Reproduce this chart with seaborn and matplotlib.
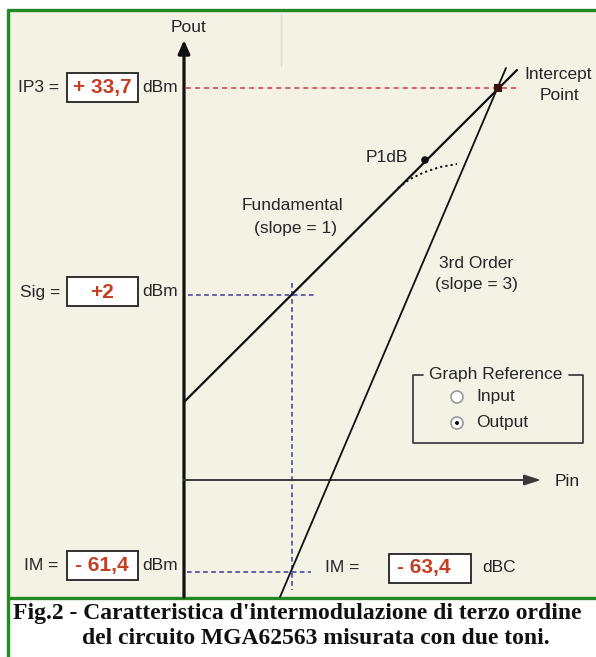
import matplotlib
matplotlib.use("Agg")
import matplotlib.pyplot as plt
from matplotlib.patches import Rectangle, Circle
import seaborn as sns

# ---------------- data (schematic units: Pin / Pout, origin at axes crossing) ----
fund_pin = [0, 333]
fund_pout = [78, 410]
third_pin = [96, 322]
third_pout = [-117, 412]
intercept_pin = [314]
intercept_pout = [392]
p1db_pin = [241]
p1db_pout = [320]
compress_pin = [214, 226, 241, 256, 273]
compress_pout = [292, 301, 308, 313, 316]
sig_pin = 108
sig_pout = 185
im_pout = -92

labels_left = ["IP3 =", "Sig =", "IM ="]
values_left = ["+ 33,7", "+2", "- 61,4"]
units_left = ["dBm", "dBm", "dBm"]
im_dbc_value = "- 63,4"
caption = ["Fig.2 - Caratteristica d'intermodulazione di terzo ordine",
           "del circuito MGA62563 misurata con due toni."]

# ---------------- style ------------------------------------------------------
sns.set_style("white")
plt.rcParams['font.family'] = ['Liberation Sans', 'DejaVu Sans']
plt.rcParams['lines.scale_dashes'] = False

W, H = 596, 657
fig = plt.figure(figsize=(W / 100, H / 100), dpi=100)
fig.patch.set_facecolor('white')
ax = fig.add_axes([0, 0, 1, 1])
OX, OY = 184, 480
ax.set_xlim(-OX, W - OX)
ax.set_ylim(OY - H, OY)
ax.axis('off')


def X(px):
    return px - OX


def Y(py):
    return OY - py


TXT = '#262626'
RED = '#c63d22'
BLUE = '#3a3a9c'
GREEN = '#238a23'
BEIGE = '#f4f1e5'

# panel
ax.add_patch(Rectangle((X(9), Y(597)), W, 587, facecolor=BEIGE, edgecolor='none', zorder=0))
# green frame
ax.plot([X(7), X(W)], [Y(10), Y(10)], color=GREEN, lw=2.4, solid_capstyle='butt', zorder=1)
ax.plot([X(8), X(8)], [Y(9), Y(H)], color=GREEN, lw=2.4, solid_capstyle='butt', zorder=1)
ax.plot([X(7), X(W)], [Y(598), Y(598)], color=GREEN, lw=2.4, solid_capstyle='butt', zorder=1)
# faint UI line
ax.plot([X(281), X(281)], [Y(14), Y(66)], color='#dcdcd6', lw=1, zorder=1)

# axes arrows
ax.annotate('', xy=(0, Y(40)), xytext=(0, Y(597)),
            arrowprops=dict(arrowstyle='-|>,head_length=0.8,head_width=0.35', lw=2.3,
                            color='#111111', shrinkA=0, shrinkB=0), zorder=3)
ax.annotate('', xy=(X(541), 0), xytext=(0, 0),
            arrowprops=dict(arrowstyle='-|>,head_length=1.0,head_width=0.32', lw=1.4,
                            color='#3a3a3a', shrinkA=0, shrinkB=0), zorder=3)
ax.text(X(188), Y(27), 'Pout', fontsize=12.5, color=TXT, ha='center', va='center')
ax.text(X(555), Y(481), 'Pin', fontsize=12.5, color=TXT, ha='left', va='center')

# guide lines
ax.plot([X(186), X(517)], [intercept_pout[0]] * 2, color='#d04848',
        lw=1.2, linestyle=(0, (3.6, 2.9)), zorder=2)
ax.plot([X(188), X(315)], [sig_pout, sig_pout], color=BLUE, lw=1.1,
        linestyle=(0, (3.4, 2.4)), zorder=2)
ax.plot([sig_pin, sig_pin], [Y(283), Y(590)], color=BLUE, lw=1.1,
        linestyle=(0, (3.4, 2.4)), zorder=2)
ax.plot([X(187), X(311)], [im_pout, im_pout], color=BLUE, lw=1.1,
        linestyle=(0, (3.4, 2.4)), zorder=2)

# characteristic lines
sns.lineplot(x=fund_pin, y=fund_pout, ax=ax, color='#111111', lw=1.6,
             sort=False, estimator=None, zorder=4)
sns.lineplot(x=third_pin, y=third_pout, ax=ax, color='#111111', lw=1.3,
             sort=False, estimator=None, zorder=4)
sns.lineplot(x=compress_pin, y=compress_pout, ax=ax, color='#111111', lw=1.4,
             sort=False, estimator=None, linestyle=(0, (1.6, 2.2)), zorder=4)
sns.scatterplot(x=p1db_pin, y=p1db_pout, ax=ax, color='#111111', s=30,
                edgecolor='none', zorder=5)
sns.scatterplot(x=intercept_pin, y=intercept_pout, ax=ax, color='#3a1414',
                marker='s', s=28, edgecolor='none', zorder=5)

# line labels
lab = dict(fontsize=12.5, color=TXT, ha='center', va='center')
ax.text(X(292), Y(205), 'Fundamental', **lab)
ax.text(X(295), Y(228), '(slope = 1)', **lab)
ax.text(X(476), Y(263), '3rd Order', **lab)
ax.text(X(476), Y(285), '(slope = 3)', **lab)
ax.text(X(387), Y(158), 'P1dB', **lab)
ax.text(X(558), Y(75), 'Intercept', **lab)
ax.text(X(559), Y(96), 'Point', **lab)

# left value boxes
rows_y = [88, 292, 566]
box_tops = [73, 277, 551]
label_x = [18, 20, 24]
for lbl, val, unit, cy, top, lx in zip(labels_left, values_left, units_left,
                                       rows_y, box_tops, label_x):
    ax.text(X(lx), Y(cy), lbl, fontsize=12.5, color=TXT, ha='left', va='center')
    ax.add_patch(Rectangle((X(67), Y(top + 29)), 71, 29, facecolor='white',
                           edgecolor='#222222', lw=1.3, zorder=3))
    ax.text(X(102), Y(cy), val, fontsize=15, color=RED, fontweight='bold',
            ha='center', va='center', zorder=4)
    ax.text(X(142), Y(cy), unit, fontsize=12.5, color=TXT, ha='left', va='center')

# right IM box
ax.text(X(325), Y(568), 'IM =', fontsize=12.5, color=TXT, ha='left', va='center')
ax.add_patch(Rectangle((X(389), Y(583)), 82, 29, facecolor='white',
                       edgecolor='#222222', lw=1.3, zorder=3))
ax.text(X(424), Y(567), im_dbc_value, fontsize=15, color=RED, fontweight='bold',
        ha='center', va='center', zorder=4)
ax.text(X(482), Y(568), 'dBC', fontsize=12.5, color=TXT, ha='left', va='center')

# graph reference group box
gx0, gx1, gy0, gy1 = 413, 583, 375, 443
ax.plot([X(gx0 + 10), X(gx0), X(gx0), X(gx1), X(gx1), X(gx1 - 14)],
        [Y(gy0), Y(gy0), Y(gy1), Y(gy1), Y(gy0), Y(gy0)],
        color='#333333', lw=1.2, zorder=2)
ax.text(X(496), Y(375), 'Graph Reference', fontsize=12.5, color=TXT,
        ha='center', va='center', zorder=3)
for cy, name, sel in [(397, 'Input', False), (423, 'Output', True)]:
    ax.add_patch(Circle((X(457), Y(cy)), 6, facecolor='white',
                        edgecolor='#9a9a9a', lw=1.2, zorder=3))
    if sel:
        ax.add_patch(Circle((X(457), Y(cy)), 2, facecolor='#111111',
                            edgecolor='none', zorder=4))
    ax.text(X(476), Y(cy), name, fontsize=12.5, color=TXT, ha='left', va='center')

# caption
ax.text(X(13), Y(613), caption[0], fontsize=17, fontweight='bold',
        family=['Liberation Serif', 'DejaVu Serif'], color='#111111',
        ha='left', va='center')
ax.text(X(82), Y(639), caption[1], fontsize=17, fontweight='bold',
        family=['Liberation Serif', 'DejaVu Serif'], color='#111111',
        ha='left', va='center')

fig.savefig('out.png', dpi=100)
